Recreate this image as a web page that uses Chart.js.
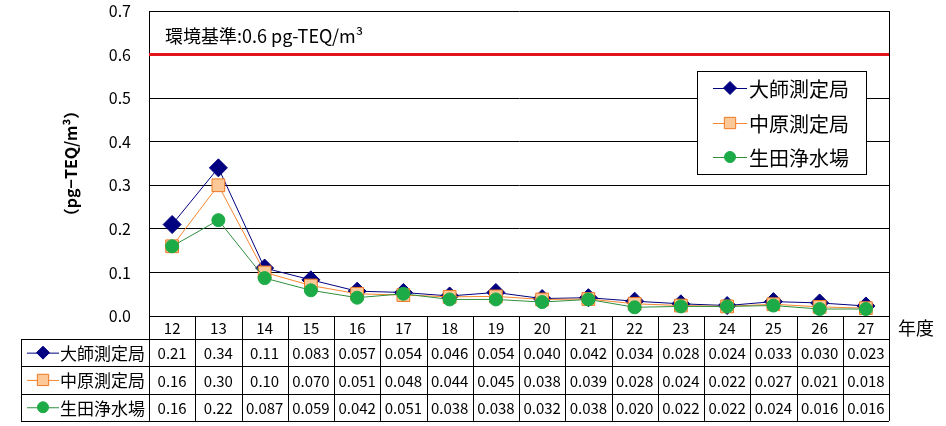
<!DOCTYPE html>
<html>
<head>
<meta charset="utf-8">
<script src="https://cdn.jsdelivr.net/npm/chart.js@4.4.1/dist/chart.umd.min.js"></script>
<style>
  body { margin: 0; background: #fff; }
</style>
</head>
<body>
<canvas id="dioxinChart" width="946" height="426"></canvas>
<script>
// Fiscal years (Heisei) and annual averages in pg-TEQ/m3
const years = ['12', '13', '14', '15', '16', '17', '18', '19', '20', '21', '22', '23', '24', '25', '26', '27'];
const daishi = [0.21, 0.34, 0.11, 0.083, 0.057, 0.054, 0.046, 0.054, 0.040, 0.042, 0.034, 0.028, 0.024, 0.033, 0.030, 0.023];
const nakahara = [0.16, 0.30, 0.10, 0.070, 0.051, 0.048, 0.044, 0.045, 0.038, 0.039, 0.028, 0.024, 0.022, 0.027, 0.021, 0.018];
const ikuta = [0.16, 0.22, 0.087, 0.059, 0.042, 0.051, 0.038, 0.038, 0.032, 0.038, 0.020, 0.022, 0.022, 0.024, 0.016, 0.016];
const stationNames = ['大師測定局', '中原測定局', '生田浄水場'];

// Environmental standard
const standardValue = 0.6;
const standardLabel = '環境基準:0.6 pg-TEQ/m³';

const yMin = 0, yMax = 0.7, yStep = 0.1;

const FONT = '"Noto Sans CJK JP", "Noto Sans", sans-serif';
Chart.defaults.font.family = FONT;
Chart.defaults.color = '#000';

// table shows 2 decimals above 0.1, 3 below
function fmt(v) {
    return v >= 0.1 ? v.toFixed(2) : v.toFixed(3);
}

function drawKey(ctx, ds, x, y, half, radius) {
    ctx.save();
    ctx.strokeStyle = ds.borderColor;
    ctx.lineWidth = 1;
    ctx.beginPath();
    ctx.moveTo(x - half, y + 0.5);
    ctx.lineTo(x + half, y + 0.5);
    ctx.stroke();
    ctx.fillStyle = ds.pointBackgroundColor;
    ctx.strokeStyle = ds.pointBorderColor;
    Chart.helpers.drawPoint(ctx, { pointStyle: ds.pointStyle, radius: radius, borderWidth: 1, rotation: 0 }, x, y);
    ctx.restore();
}

const decorPlugin = {
    id: 'decor',
    beforeDatasetsDraw(chart) {
        const { ctx, chartArea, scales } = chart;
        // red standard line
        const y = scales.y.getPixelForValue(standardValue);
        ctx.save();
        ctx.strokeStyle = '#e3131b';
        ctx.lineWidth = 3;
        ctx.beginPath();
        ctx.moveTo(chartArea.left, y);
        ctx.lineTo(chartArea.right, y);
        ctx.stroke();
        ctx.fillStyle = '#000';
        ctx.font = '18px ' + FONT;
        ctx.textBaseline = 'middle';
        ctx.textAlign = 'left';
        ctx.fillText(standardLabel, chartArea.left + 16, scales.y.getPixelForValue(0.65) + 3);
        ctx.restore();
    },
    afterDatasetsDraw(chart) {
        const { ctx, chartArea, scales } = chart;
        const x = scales.x;
        const sets = chart.data.datasets;
        ctx.save();

        // legend box
        ctx.fillStyle = '#fff';
        ctx.fillRect(697, 71, 169, 103);
        ctx.strokeStyle = '#000';
        ctx.lineWidth = 1;
        ctx.strokeRect(697.5, 71.5, 169, 103);
        const legendY = [88, 123, 157];
        ctx.font = '20px ' + FONT;
        ctx.textBaseline = 'middle';
        sets.forEach((ds, i) => {
            drawKey(ctx, ds, 730, legendY[i], 17, ds.keyRadius);
            ctx.fillStyle = '#000';
            ctx.textAlign = 'left';
            ctx.fillText(ds.label, 749, legendY[i] + 1);
        });

        // y axis title
        ctx.save();
        ctx.translate(71, (chartArea.top + chartArea.bottom) / 2);
        ctx.rotate(-Math.PI / 2);
        ctx.font = 'bold 16px ' + FONT;
        ctx.textAlign = 'center';
        ctx.textBaseline = 'middle';
        ctx.fillText('（pg−TEQ/m³）', 0, 0);
        ctx.restore();

        // data table under the plot
        const top = chartArea.bottom;
        const headBottom = top + 23;
        const rowH = 27.3;
        const bottom = headBottom + rowH * 3;
        const tableLeft = 21;
        const edges = [chartArea.left];
        for (let i = 0; i < years.length - 1; i++) {
            edges.push((x.getPixelForValue(i) + x.getPixelForValue(i + 1)) / 2);
        }
        edges.push(chartArea.right);

        ctx.strokeStyle = '#000';
        ctx.lineWidth = 1;
        ctx.beginPath();
        for (let r = 0; r <= 3; r++) {
            const yy = Math.round(headBottom + rowH * r) + 0.5;
            ctx.moveTo(tableLeft, yy);
            ctx.lineTo(chartArea.right, yy);
        }
        ctx.moveTo(tableLeft + 0.5, headBottom);
        ctx.lineTo(tableLeft + 0.5, bottom);
        edges.forEach((e, i) => {
            const xx = Math.round(e) + 0.5;
            ctx.moveTo(xx, i === edges.length - 1 ? chartArea.top : top);
            ctx.lineTo(xx, bottom);
        });
        ctx.stroke();

        ctx.fillStyle = '#000';
        ctx.textAlign = 'center';
        ctx.textBaseline = 'middle';
        ctx.font = '15px ' + FONT;
        years.forEach((yr, i) => {
            ctx.fillText(yr, x.getPixelForValue(i), (top + headBottom) / 2 + 1);
        });
        sets.forEach((ds, r) => {
            const cy = headBottom + rowH * r + rowH / 2 + 1;
            ds.data.forEach((v, i) => {
                ctx.fillText(fmt(v), x.getPixelForValue(i), cy);
            });
        });
        ctx.font = '17px ' + FONT;
        ctx.textAlign = 'left';
        sets.forEach((ds, r) => {
            const cy = headBottom + rowH * r + rowH / 2;
            drawKey(ctx, ds, 43, cy, 16, ds.keyRadius);
            ctx.fillStyle = '#000';
            ctx.fillText(ds.label, 60, cy + 1);
        });
        ctx.font = '18px ' + FONT;
        ctx.fillText('年度', chartArea.right + 9, (top + headBottom) / 2 + 1);
        ctx.restore();
    }
};

new Chart(document.getElementById('dioxinChart'), {
    type: 'line',
    data: {
        labels: years,
        datasets: [
            {
                label: stationNames[0],
                data: daishi,
                order: 3,
                borderColor: '#000080',
                borderWidth: 1,
                pointStyle: 'rectRot',
                pointRadius: 9,
                keyRadius: 6.5,
                pointBackgroundColor: '#000080',
                pointBorderColor: '#000080',
                pointBorderWidth: 1
            },
            {
                label: stationNames[1],
                data: nakahara,
                order: 2,
                borderColor: '#f7862e',
                borderWidth: 1,
                pointStyle: 'rect',
                pointRadius: 9,
                keyRadius: 8,
                pointBackgroundColor: '#fcc898',
                pointBorderColor: '#ee7a22',
                pointBorderWidth: 1
            },
            {
                label: stationNames[2],
                data: ikuta,
                order: 1,
                borderColor: '#2f8f3c',
                borderWidth: 1,
                pointStyle: 'circle',
                pointRadius: 6.5,
                keyRadius: 5.5,
                pointBackgroundColor: '#1dab48',
                pointBorderColor: '#1dab48',
                pointBorderWidth: 1
            }
        ]
    },
    options: {
        responsive: false,
        animation: false,
        devicePixelRatio: 1,
        layout: { padding: { top: 11, right: 57, bottom: 110, left: 0 } },
        plugins: {
            legend: { display: false },
            tooltip: { enabled: false }
        },
        scales: {
            x: {
                type: 'category',
                offset: true,
                display: false
            },
            y: {
                min: yMin,
                max: yMax,
                afterFit: s => {
                    s.width = 149;
                    s.paddingTop = 0;
                    s.paddingBottom = 0;
                },
                border: { display: true, color: '#000', width: 1 },
                grid: { color: '#000', lineWidth: 1, drawTicks: false },
                ticks: {
                    stepSize: yStep,
                    padding: 18,
                    font: { size: 16 },
                    color: '#000',
                    callback: v => v.toFixed(1)
                }
            }
        }
    },
    plugins: [decorPlugin]
});
</script>
</body>
</html>
